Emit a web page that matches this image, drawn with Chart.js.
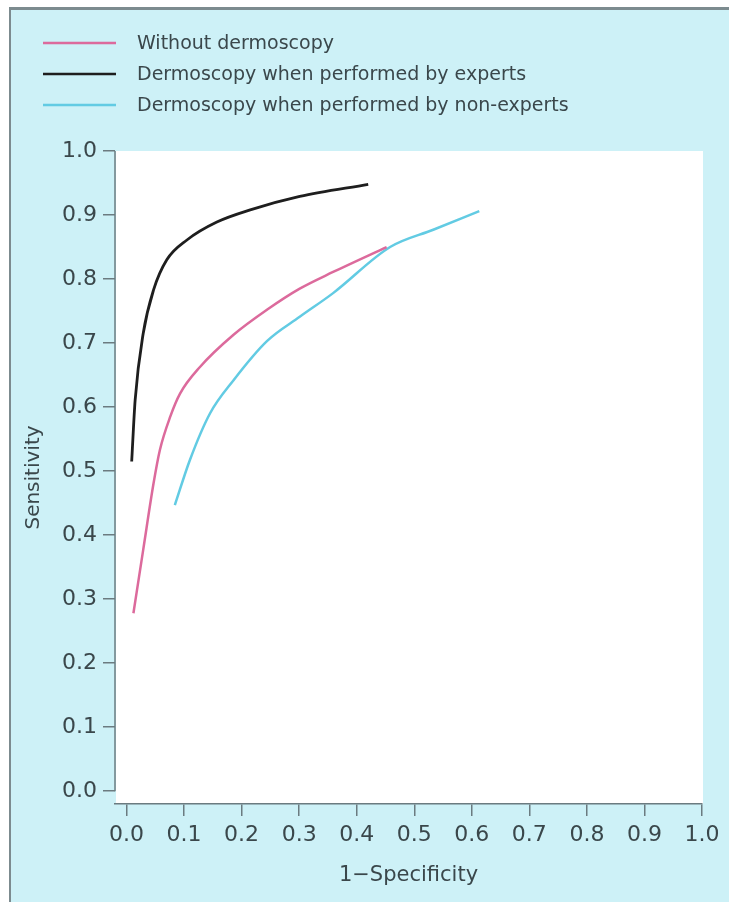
<!DOCTYPE html>
<html>
<head>
<meta charset="utf-8">
<script src="https://cdn.jsdelivr.net/npm/chart.js@4.4.1/dist/chart.umd.min.js"></script>
<style>
    html, body { margin: 0; padding: 0; background: #ffffff; }
    #wrap { width: 729px; height: 902px; position: relative; }
</style>
</head>
<body>
<div id="wrap"><canvas id="roc"></canvas></div>
<script>
const seriesNames = [
    "Without dermoscopy",
    "Dermoscopy when performed by experts",
    "Dermoscopy when performed by non-experts"
];

// 1 - specificity (x) and sensitivity (y)
const withoutX = [0.012, 0.029, 0.047, 0.058, 0.076, 0.093, 0.128, 0.186, 0.244, 0.301, 0.359, 0.452];
const withoutY = [0.278, 0.377, 0.481, 0.533, 0.585, 0.621, 0.663, 0.713, 0.752, 0.785, 0.811, 0.850];

const expertsX = [0.009, 0.015, 0.029, 0.047, 0.070, 0.105, 0.157, 0.215, 0.301, 0.420];
const expertsY = [0.515, 0.611, 0.715, 0.783, 0.830, 0.861, 0.889, 0.908, 0.929, 0.948];

const nonExpertsX = [0.084, 0.110, 0.145, 0.186, 0.244, 0.301, 0.359, 0.458, 0.533, 0.613];
const nonExpertsY = [0.447, 0.517, 0.590, 0.642, 0.703, 0.741, 0.778, 0.850, 0.877, 0.906];

const xTicks = [0, 0.1, 0.2, 0.3, 0.4, 0.5, 0.6, 0.7, 0.8, 0.9, 1.0];
const yTicks = [0, 0.1, 0.2, 0.3, 0.4, 0.5, 0.6, 0.7, 0.8, 0.9, 1.0];

const lineColors = ['#dc6a9c', '#1e1e1e', '#62cbe3'];
const axisColor = '#6b7b80';
const textColor = '#3a474b';
const fontName = '"DejaVu Sans", sans-serif';

function toPoints(xs, ys) {
    return xs.map((x, i) => ({ x: x, y: ys[i] }));
}

function makeSet(i, xs, ys) {
    return {
        label: seriesNames[i],
        data: toPoints(xs, ys),
        borderColor: lineColors[i],
        backgroundColor: lineColors[i],
        borderWidth: i === 1 ? 2.8 : 2.5,
        pointRadius: 0,
        fill: false,
        cubicInterpolationMode: 'monotone'
    };
}

// background, frame and white plot area
const framePlugin = {
    id: 'frame',
    beforeDraw(chart) {
        const ctx = chart.ctx;
        const a = chart.chartArea;
        ctx.save();
        ctx.fillStyle = '#ffffff';
        ctx.fillRect(0, 0, chart.width, chart.height);
        ctx.fillStyle = '#cdf1f7';
        ctx.fillRect(10, 7, chart.width - 10, chart.height - 7);
        ctx.strokeStyle = '#7c8b8f';
        ctx.lineWidth = 3;
        ctx.beginPath();
        ctx.moveTo(9, 8.5);
        ctx.lineTo(chart.width, 8.5);
        ctx.stroke();
        ctx.lineWidth = 2;
        ctx.beginPath();
        ctx.moveTo(10, 7);
        ctx.lineTo(10, chart.height);
        ctx.stroke();
        ctx.fillStyle = '#ffffff';
        ctx.fillRect(a.left + 1, a.top, a.right - a.left, a.bottom - a.top);
        ctx.restore();
    },
    afterDraw(chart) {
        const ctx = chart.ctx;
        const y = chart.scales.y;
        const left = chart.chartArea.left;
        ctx.save();
        // y axis line only spans 0..1
        ctx.strokeStyle = axisColor;
        ctx.lineWidth = 1.5;
        ctx.beginPath();
        ctx.moveTo(left, y.getPixelForValue(1));
        ctx.lineTo(left, y.getPixelForValue(0));
        ctx.stroke();

        // legend
        ctx.font = '19px ' + fontName;
        ctx.textBaseline = 'middle';
        chart.data.datasets.forEach((ds, i) => {
            const ly = 43 + i * 31;
            ctx.strokeStyle = ds.borderColor;
            ctx.lineWidth = 2.6;
            ctx.beginPath();
            ctx.moveTo(43, ly);
            ctx.lineTo(116, ly);
            ctx.stroke();
            ctx.fillStyle = textColor;
            ctx.fillText(ds.label, 137, ly + 1);
        });
        ctx.restore();
    }
};

new Chart(document.getElementById('roc'), {
    type: 'line',
    data: {
        datasets: [
            makeSet(0, withoutX, withoutY),
            makeSet(1, expertsX, expertsY),
            makeSet(2, nonExpertsX, nonExpertsY)
        ]
    },
    options: {
        responsive: true,
        maintainAspectRatio: false,
        animation: false,
        layout: { padding: { top: 151, right: 27, bottom: 0, left: 0 } },
        plugins: {
            legend: { display: false },
            tooltip: { enabled: false }
        },
        scales: {
            x: {
                type: 'linear',
                min: -0.02,
                max: 1.0,
                afterBuildTicks: (scale) => { scale.ticks = xTicks.map(v => ({ value: v })); },
                afterFit: (scale) => { scale.height = 98; },
                ticks: {
                    color: textColor,
                    font: { family: fontName, size: 22 },
                    padding: 6,
                    maxRotation: 0,
                    autoSkip: false,
                    callback: (v) => v.toFixed(1)
                },
                grid: { drawOnChartArea: false, drawTicks: true, tickLength: 12, color: axisColor, lineWidth: 1.5 },
                border: { display: true, color: axisColor, width: 1.5 },
                title: {
                    display: true,
                    text: '1\u2212Specificity',
                    color: textColor,
                    font: { family: fontName, size: 21 },
                    padding: { top: 4, bottom: 14 }
                }
            },
            y: {
                type: 'linear',
                min: -0.02,
                max: 1.0,
                afterBuildTicks: (scale) => { scale.ticks = yTicks.map(v => ({ value: v })); },
                afterFit: (scale) => { scale.width = 115; },
                ticks: {
                    color: textColor,
                    font: { family: fontName, size: 22 },
                    padding: 6,
                    autoSkip: false,
                    callback: (v) => v.toFixed(1)
                },
                grid: { drawOnChartArea: false, drawTicks: true, tickLength: 12, color: axisColor, lineWidth: 1.5 },
                border: { display: false },
                title: {
                    display: true,
                    text: 'Sensitivity',
                    color: textColor,
                    font: { family: fontName, size: 20 },
                    padding: { top: 22, bottom: 0 }
                }
            }
        }
    },
    plugins: [framePlugin]
});
</script>
</body>
</html>
